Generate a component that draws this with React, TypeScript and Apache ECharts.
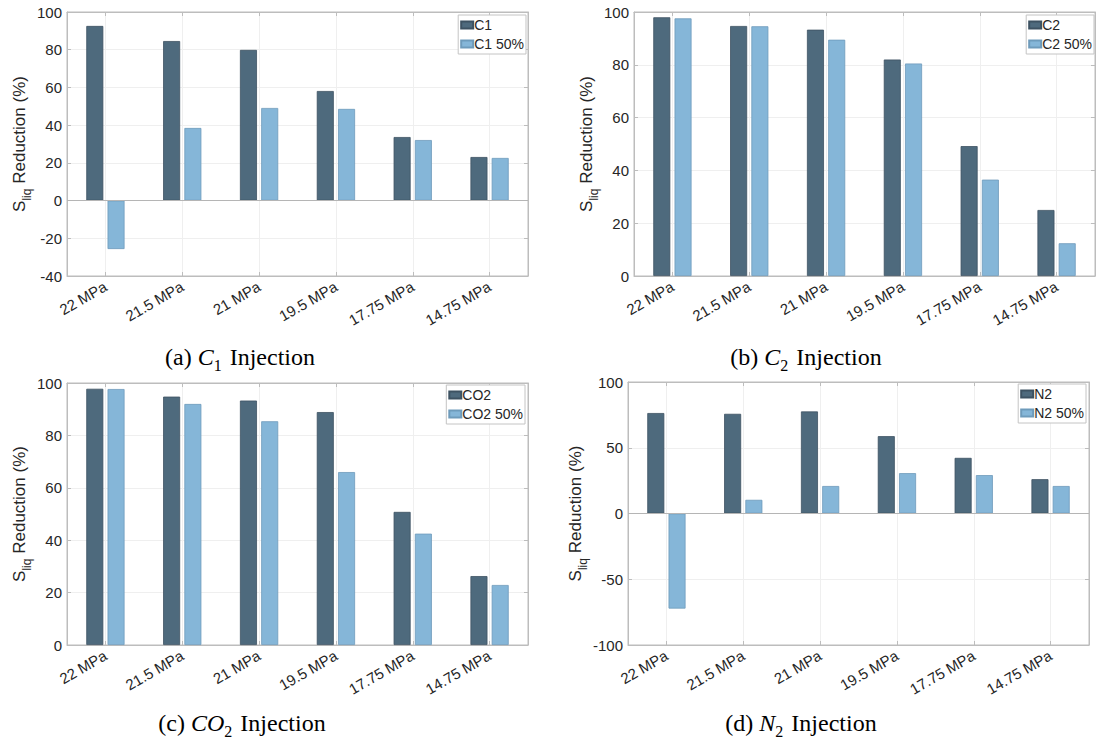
import React, { useEffect, useRef } from 'react';
import * as echarts from 'echarts';

const categories = ['22 MPa', '21.5 MPa', '21 MPa', '19.5 MPa', '17.75 MPa', '14.75 MPa'];

const c1 = [92.6, 84.6, 79.9, 58.1, 33.7, 23.1];
const c1Half = [-25.7, 38.5, 49.1, 48.6, 32.1, 22.6];
const c2 = [98.0, 94.7, 93.3, 82.0, 49.2, 25.0];
const c2Half = [97.6, 94.6, 89.5, 80.5, 36.5, 12.4];
const co2 = [97.8, 94.8, 93.3, 88.9, 50.8, 26.3];
const co2Half = [97.7, 92.0, 85.4, 66.0, 42.5, 22.9];
const n2 = [76.4, 75.8, 77.6, 58.8, 42.3, 26.1];
const n2Half = [-72.3, 10.4, 20.9, 30.7, 29.2, 20.9];

const seriesNamesA = ['C1', 'C1 50%'];
const seriesNamesB = ['C2', 'C2 50%'];
const seriesNamesC = ['CO2', 'CO2 50%'];
const seriesNamesD = ['N2', 'N2 50%'];

const yTicksA = { min: -40, max: 100, interval: 20 };
const yTicksB = { min: 0, max: 100, interval: 20 };
const yTicksC = { min: 0, max: 100, interval: 20 };
const yTicksD = { min: -100, max: 100, interval: 50 };

const captionLetters = ['(a) ', '(b) ', '(c) ', '(d) '];
const captionSymbols = ['C', 'C', 'CO', 'N'];
const captionSubs = ['1', '2', '2', '2'];

const DARK = '#4e6a7d';
const LIGHT = '#85b6d8';
const AXIS = '#bdbdbd';
const GRIDC = '#efefef';
const TXT = '#262626';
const SANS = 'Liberation Sans, Arial, Helvetica, sans-serif';
const SERIF = 'Liberation Serif, Times New Roman, serif';

const panels = [
  { grid: { left: 67, top: 12, width: 461, height: 264 }, ticks: yTicksA, names: seriesNamesA, data: [c1, c1Half], legend: { right: 571, top: 15 }, nameGap: 35, caption: { x: 240, y: 355 }, zero: true },
  { grid: { left: 634, top: 12, width: 461, height: 264 }, ticks: yTicksB, names: seriesNamesB, data: [c2, c2Half], legend: { right: 3, top: 15 }, nameGap: 29, caption: { x: 806, y: 355 }, zero: false },
  { grid: { left: 67, top: 383, width: 461, height: 262 }, ticks: yTicksC, names: seriesNamesC, data: [co2, co2Half], legend: { right: 572, top: 385 }, nameGap: 35, caption: { x: 242, y: 721 }, zero: false },
  { grid: { left: 628, top: 382, width: 461, height: 263 }, ticks: yTicksD, names: seriesNamesD, data: [n2, n2Half], legend: { right: 11, top: 384 }, nameGap: 30, caption: { x: 801, y: 721 }, zero: true },
];

function buildOption() {
  const grid: any[] = [];
  const xAxis: any[] = [];
  const yAxis: any[] = [];
  const series: any[] = [];
  const legend: any[] = [];
  const graphic: any[] = [];

  panels.forEach((p, i) => {
    grid.push({ ...p.grid, show: true, borderColor: AXIS, borderWidth: 1, backgroundColor: '#fff' });
    xAxis.push({
      type: 'category', gridIndex: i, data: categories, position: 'bottom',
      axisLine: { show: true, onZero: false, lineStyle: { color: AXIS } },
      axisTick: { show: true, inside: true, alignWithLabel: true, length: 4, lineStyle: { color: AXIS } },
      axisLabel: { rotate: 30, fontSize: 15, color: TXT, margin: 9, fontFamily: SANS },
      splitLine: { show: true, alignWithLabel: true, lineStyle: { color: GRIDC } },
    });
    xAxis.push({
      type: 'category', gridIndex: i, data: categories, position: 'top',
      axisLine: { show: true, onZero: false, lineStyle: { color: AXIS } },
      axisTick: { show: true, inside: true, alignWithLabel: true, length: 4, lineStyle: { color: AXIS } },
      axisLabel: { show: false },
      splitLine: { show: false },
    });
    yAxis.push({
      type: 'value', gridIndex: i, position: 'left', ...p.ticks,
      name: '{s|S}{sub|liq}{s| Reduction (%)}',
      nameLocation: 'middle', nameRotate: 90, nameGap: p.nameGap,
      nameTextStyle: {
        color: TXT, fontFamily: SANS, fontSize: 17,
        rich: {
          s: { fontSize: 17, fontFamily: SANS, color: TXT, lineHeight: 20, verticalAlign: 'bottom' },
          sub: { fontSize: 12, fontFamily: SANS, color: TXT, lineHeight: 20, verticalAlign: 'bottom', padding: [0, 0, -5, 0] },
        },
      },
      axisLine: { show: true, lineStyle: { color: AXIS } },
      axisTick: { show: true, inside: true, length: 4, lineStyle: { color: AXIS } },
      axisLabel: { fontSize: 15, color: TXT, margin: 5, fontFamily: SANS },
      splitLine: { show: true, lineStyle: { color: GRIDC } },
    });
    yAxis.push({
      type: 'value', gridIndex: i, position: 'right', ...p.ticks,
      axisLine: { show: true, lineStyle: { color: AXIS } },
      axisTick: { show: true, inside: true, length: 4, lineStyle: { color: AXIS } },
      axisLabel: { show: false },
      splitLine: { show: false },
    });
    p.names.forEach((nm, k) => {
      const s: any = {
        type: 'bar', name: nm, xAxisIndex: 2 * i, yAxisIndex: 2 * i,
        data: p.data[k], barWidth: 17, barGap: '25%',
        itemStyle: {
          color: k === 0 ? DARK : LIGHT,
          borderColor: k === 0 ? '#3d5262' : '#6e9bbb',
          borderWidth: 0.8,
        },
      };
      if (k === 0 && p.zero) {
        s.markLine = {
          silent: true, symbol: 'none', label: { show: false },
          lineStyle: { color: '#b5b5b5', width: 1, type: 'solid' },
          data: [{ yAxis: 0 }],
        };
      }
      series.push(s);
    });
    legend.push({
      data: p.names, orient: 'vertical', right: p.legend.right, top: p.legend.top,
      icon: 'rect', itemWidth: 12, itemHeight: 7, itemGap: 5,
      padding: [3, 2, 3, 2], borderColor: '#c4c4c4', borderWidth: 1, backgroundColor: '#fff',
      textStyle: { fontSize: 14, color: TXT, fontFamily: SANS, padding: [0, 0, 0, -4] },
    });
    graphic.push({
      type: 'text', x: p.caption.x, y: p.caption.y,
      style: {
        text: `{r|${captionLetters[i]}}{i|${captionSymbols[i]}}{sub|${captionSubs[i]}}{r| Injection}`,
        align: 'center', verticalAlign: 'middle',
        fill: '#000',
        rich: {
          r: { fontSize: 24, fontFamily: SERIF, fill: '#000', lineHeight: 28, verticalAlign: 'bottom' },
          i: { fontSize: 24, fontFamily: SERIF, fontStyle: 'italic', fill: '#000', lineHeight: 28, verticalAlign: 'bottom' },
          sub: { fontSize: 16, fontFamily: SERIF, fill: '#000', lineHeight: 28, verticalAlign: 'bottom', padding: [0, 2, -4, 0] },
        },
      },
    });
  });

  return { animation: false, backgroundColor: '#fff', grid, xAxis, yAxis, series, legend, graphic };
}

export default function App() {
  const ref = useRef<HTMLDivElement>(null);
  useEffect(() => {
    if (!ref.current) return;
    const chart = echarts.init(ref.current, undefined, { renderer: 'svg' });
    chart.setOption(buildOption() as any);
    return () => chart.dispose();
  }, []);
  return <div ref={ref} style={{ position: 'fixed', left: 0, top: 0, width: 1097, height: 740, background: '#fff' }} />;
}
